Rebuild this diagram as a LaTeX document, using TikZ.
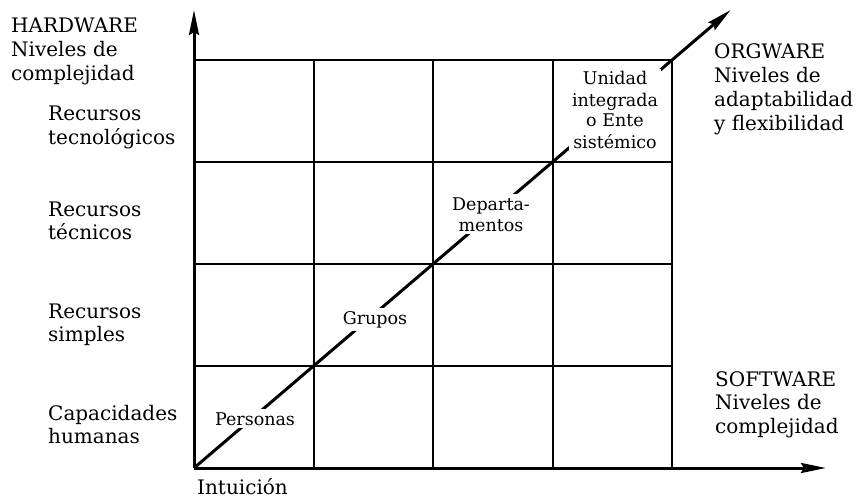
\documentclass[tikz,border=0pt]{standalone}
\usepackage{fontspec}
\setmainfont{DejaVu Serif}
\usetikzlibrary{arrows.meta}
\newcommand\lstack[1]{\vtop{\halign{##\hfil\cr#1\crcr}}}
\newcommand\cstack[1]{\vtop{\halign{\hfil##\hfil\cr#1\crcr}}}
\begin{document}
\begin{tikzpicture}[x=1pt,y=-1pt,
  outer/.style={inner sep=0pt, anchor=base west, font=\fontsize{20}{23.8}\selectfont},
  cell/.style={inner sep=3pt, fill=white, anchor=base, font=\fontsize{17.5}{21}\selectfont},
  axisline/.style={line width=3pt, -{Stealth[length=25pt,width=10pt,inset=3pt]}},
  gridline/.style={line width=2pt},
]
\useasboundingbox (0,0) rectangle (861,500);
% coordinates
\coordinate (O) at (194,468);
\coordinate (Ytip) at (194,10);
\coordinate (Xtip) at (826,468);
\coordinate (TR) at (672,60);
\coordinate (Dtip) at (730.6,10);
% grid
\foreach \yy in {60,162,264,366} \draw[gridline] (194,\yy) -- (672,\yy);
\foreach \xx in {313.5,433,552.5,672} \draw[gridline] (\xx,60) -- (\xx,468);
% axes
\draw[axisline] (O) -- (Ytip);
\draw[axisline] (O) -- (Xtip);
\draw[axisline] (O) -- (Dtip);
% outer labels
\node[outer] (hw) at (11,33) {\lstack{HARDWARE\cr Niveles de\cr complejidad}};
\node[outer] (rt) at (48,121) {\lstack{Recursos\cr tecnológicos}};
\node[outer] (rte) at (48,216) {\lstack{Recursos\cr técnicos}};
\node[outer] (rs) at (48,318) {\lstack{Recursos\cr simples}};
\node[outer] (ch) at (48,420) {\lstack{Capacidades\cr humanas}};
\node[outer] (org) at (714,59) {\lstack{ORGWARE\cr Niveles de\cr adaptabilidad\cr y flexibilidad}};
\node[outer] (sw) at (715,386) {\lstack{SOFTWARE\cr Niveles de\cr complejidad}};
\node[outer] (int) at (197,494) {Intuición};
% cell labels on the diagonal
\node[cell] (per) at (255,425) {Personas};
\node[cell] (gru) at (375,324) {Grupos};
\node[cell] (dep) at (491,210) {\cstack{Departa-\cr mentos}};
\node[cell] (uni) at (615,85) {\cstack{Unidad\cr integrada\cr o Ente\cr sistémico}};
\end{tikzpicture}
\end{document}
